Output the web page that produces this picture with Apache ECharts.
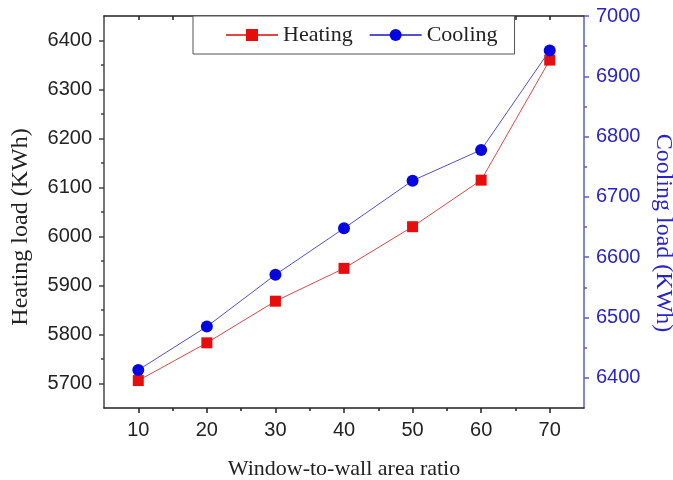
<!DOCTYPE html>
<html>
<head>
<meta charset="utf-8">
<script src="https://cdn.jsdelivr.net/npm/echarts@6/dist/echarts.min.js"></script>
<style>
html,body{margin:0;padding:0;background:#fff;}
#chart{width:673px;height:480px;}
</style>
</head>
<body>
<div id="chart"></div>
<script>
// Data
var ratios = [10, 20, 30, 40, 50, 60, 70];
var heating = [5706, 5783, 5868, 5935, 6020, 6115, 6360];
var cooling = [6413, 6485, 6571, 6648, 6727, 6778, 6943];

var xMajor = [10, 20, 30, 40, 50, 60, 70];
var xMinor = [15, 25, 35, 45, 55, 65];
var xTop = [10, 15, 20, 25, 30, 35, 40, 45, 50, 55, 60, 65, 70];
var leftMajor = [5700, 5800, 5900, 6000, 6100, 6200, 6300, 6400];
var leftMinor = [5750, 5850, 5950, 6050, 6150, 6250, 6350];
var rightMajor = [6400, 6500, 6600, 6700, 6800, 6900, 7000];
var rightMinor = [6450, 6550, 6650, 6750, 6850, 6950];

var BLUE_LINE = '#5b5bd2';
var BLUE_TEXT = '#2a24c8';
var SANS = '"Liberation Sans", Arial, sans-serif';
var SERIF = '"Liberation Serif", "Times New Roman", serif';

var chart = echarts.init(document.getElementById('chart'), null, {renderer: 'canvas'});

function pairs(xs, ys) { return xs.map(function (x, i) { return [x, ys[i]]; }); }
function plain(v) { return String(v); }

var option = {
  animation: false,
  backgroundColor: '#fff',
  grid: {left: 104, right: 89, top: 16, bottom: 72, containLabel: false, outerBoundsMode: 'none'},
  legend: {
    left: 193, top: 16,
    orient: 'horizontal',
    padding: [8, 17, 8, 32],
    borderColor: '#555', borderWidth: 1,
    backgroundColor: '#fff',
    itemWidth: 52, itemHeight: 15, itemGap: 16,
    textStyle: {fontFamily: SERIF, fontSize: 22, color: '#222'},
    data: ['Heating', 'Cooling']
  },
  xAxis: [
    {
      type: 'value', position: 'bottom', min: 5, max: 75,
      axisLine: {show: true, lineStyle: {color: '#222', width: 1.5}},
      axisTick: {show: true, length: 5, customValues: xMajor, lineStyle: {color: '#222', width: 1.5}},
      axisLabel: {customValues: xMajor, formatter: plain, fontFamily: SANS, fontSize: 20, color: '#222', margin: 12},
      splitLine: {show: false},
      name: 'Window-to-wall area ratio', nameLocation: 'middle', nameGap: 50,
      nameTextStyle: {fontFamily: SERIF, fontSize: 22, color: '#222'}
    },
    {
      type: 'value', position: 'bottom', min: 5, max: 75,
      axisLine: {show: false},
      axisTick: {show: true, length: 3, customValues: xMinor, lineStyle: {color: '#222', width: 1.5}},
      axisLabel: {show: false}, splitLine: {show: false}
    },
    {
      type: 'value', position: 'top', min: 5, max: 75,
      axisLine: {show: true, lineStyle: {color: '#222', width: 1.5}},
      axisTick: {show: true, inside: true, length: 4, customValues: xTop, lineStyle: {color: '#222', width: 1.5}},
      axisLabel: {show: false}, splitLine: {show: false}
    }
  ],
  yAxis: [
    {
      type: 'value', position: 'left', min: 5650, max: 6450,
      axisLine: {show: true, lineStyle: {color: '#444', width: 1.5}},
      axisTick: {show: true, length: 5, customValues: leftMajor, lineStyle: {color: '#444', width: 1.5}},
      axisLabel: {customValues: leftMajor, formatter: plain, fontFamily: SANS, fontSize: 20, color: '#222', margin: 12},
      splitLine: {show: false},
      name: 'Heating load (KWh)', nameLocation: 'middle', nameGap: 71,
      nameTextStyle: {fontFamily: SERIF, fontSize: 24, color: '#222', padding: [0, 30, 0, 0]}
    },
    {
      type: 'value', position: 'right', min: 6350, max: 7000,
      axisLine: {show: true, lineStyle: {color: BLUE_LINE, width: 1.5}},
      axisTick: {show: true, length: 5, customValues: rightMajor, lineStyle: {color: BLUE_LINE, width: 1.5}},
      axisLabel: {customValues: rightMajor, formatter: plain, fontFamily: SANS, fontSize: 20, color: BLUE_TEXT, margin: 12},
      splitLine: {show: false},
      name: 'Cooling load (KWh)', nameLocation: 'middle', nameGap: 56, nameRotate: -90,
      nameTextStyle: {fontFamily: SERIF, fontSize: 24, color: BLUE_TEXT, padding: [0, 0, 0, 42]}
    },
    {
      type: 'value', position: 'left', min: 5650, max: 6450,
      axisLine: {show: false},
      axisTick: {show: true, length: 3, customValues: leftMinor, lineStyle: {color: '#444', width: 1.5}},
      axisLabel: {show: false}, splitLine: {show: false}
    },
    {
      type: 'value', position: 'right', min: 6350, max: 7000,
      axisLine: {show: false},
      axisTick: {show: true, length: 3, customValues: rightMinor, lineStyle: {color: BLUE_LINE, width: 1.5}},
      axisLabel: {show: false}, splitLine: {show: false}
    }
  ],
  series: [
    {
      name: 'Heating', type: 'line', xAxisIndex: 0, yAxisIndex: 0,
      data: pairs(ratios, heating),
      symbol: 'rect', symbolSize: 11,
      lineStyle: {color: '#e04848', width: 1},
      itemStyle: {color: '#e60d0d'},
      z: 3
    },
    {
      name: 'Cooling', type: 'line', xAxisIndex: 0, yAxisIndex: 1,
      data: pairs(ratios, cooling),
      symbol: 'circle', symbolSize: 12,
      lineStyle: {color: '#5050d0', width: 1},
      itemStyle: {color: '#0505e0'},
      z: 4
    }
  ]
};
chart.setOption(option);
</script>
</body>
</html>
